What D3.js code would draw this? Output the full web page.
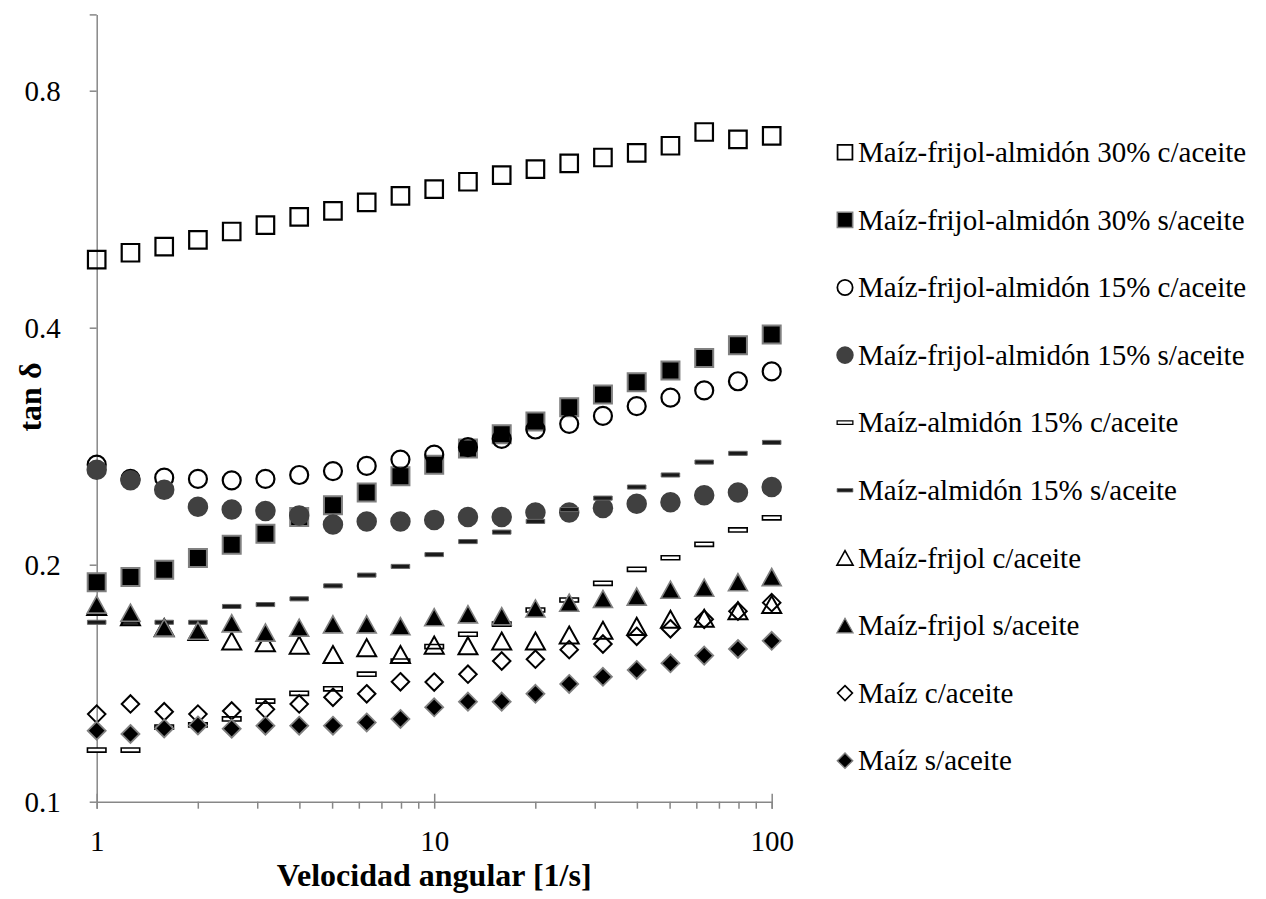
<!DOCTYPE html>
<html>
<head>
<meta charset="utf-8">
<script src="https://cdn.jsdelivr.net/npm/d3@7"></script>
<style>
  body { margin: 0; background: #fff; }
</style>
</head>
<body>
<svg id="chart" width="1266" height="899"></svg>
<script>
// angular velocity, 10 points per decade
const xValues = [1, 1.259, 1.585, 1.995, 2.512, 3.162, 3.981, 5.012, 6.31, 7.943, 10,
                 12.59, 15.85, 19.95, 25.12, 31.62, 39.81, 50.12, 63.1, 79.43, 100];

// tan delta
const mfa30Con = [0.488, 0.498, 0.507, 0.517, 0.530, 0.540, 0.553, 0.563, 0.577, 0.588, 0.600,
                  0.613, 0.625, 0.636, 0.647, 0.658, 0.667, 0.681, 0.709, 0.694, 0.701];
const mfa30Sin = [0.190, 0.193, 0.197, 0.204, 0.212, 0.219, 0.230, 0.238, 0.247, 0.259, 0.268,
                  0.281, 0.293, 0.304, 0.317, 0.329, 0.341, 0.353, 0.366, 0.380, 0.392];
const mfa15Con = [0.268, 0.257, 0.258, 0.257, 0.256, 0.257, 0.260, 0.263, 0.267, 0.272, 0.276,
                  0.282, 0.289, 0.297, 0.302, 0.309, 0.318, 0.326, 0.333, 0.342, 0.352];
const mfa15Sin = [0.264, 0.256, 0.249, 0.237, 0.235, 0.234, 0.231, 0.225, 0.227, 0.227, 0.228,
                  0.230, 0.230, 0.233, 0.233, 0.236, 0.239, 0.240, 0.245, 0.247, 0.251];
const ma15Con  = [0.1163, 0.1163, 0.1244, 0.1252, 0.1274, 0.1342, 0.1373, 0.1391, 0.1452, 0.1509, 0.1574,
                  0.1632, 0.1681, 0.1752, 0.1804, 0.1894, 0.1973, 0.2041, 0.2123, 0.2214, 0.2294];
const ma15Sin  = [0.169, 0.169, 0.169, 0.169, 0.177, 0.178, 0.181, 0.188, 0.194, 0.199, 0.206,
                  0.214, 0.220, 0.227, 0.235, 0.243, 0.251, 0.260, 0.270, 0.277, 0.286];
const mfCon    = [0.177, 0.1718, 0.1664, 0.1645, 0.1600, 0.1592, 0.1581, 0.1538, 0.1569, 0.1538, 0.1581,
                  0.1578, 0.1600, 0.1600, 0.1628, 0.1651, 0.1670, 0.1705, 0.1710, 0.1748, 0.178];
const mfSin    = [0.178, 0.1738, 0.1664, 0.1649, 0.1685, 0.1640, 0.1664, 0.1680, 0.1680, 0.1671, 0.1715,
                  0.1730, 0.1720, 0.1760, 0.1790, 0.1810, 0.1822, 0.1859, 0.1870, 0.1900, 0.1929];
const mCon     = [0.1292, 0.1331, 0.1301, 0.1292, 0.1304, 0.1310, 0.1331, 0.1357, 0.1371, 0.1420, 0.1419,
                  0.1452, 0.1509, 0.1517, 0.1560, 0.1586, 0.1622, 0.1658, 0.1705, 0.1746, 0.1790];
const mSin     = [0.1231, 0.1219, 0.1239, 0.1250, 0.1238, 0.1249, 0.1249, 0.1249, 0.1261, 0.1274, 0.1318,
                  0.1340, 0.1340, 0.1371, 0.1411, 0.1441, 0.1470, 0.1499, 0.1533, 0.1563, 0.1601];

const seriesNames = ["Maíz-frijol-almidón 30% c/aceite", "Maíz-frijol-almidón 30% s/aceite",
                     "Maíz-frijol-almidón 15% c/aceite", "Maíz-frijol-almidón 15% s/aceite",
                     "Maíz-almidón 15% c/aceite", "Maíz-almidón 15% s/aceite",
                     "Maíz-frijol c/aceite", "Maíz-frijol s/aceite",
                     "Maíz c/aceite", "Maíz s/aceite"];
const seriesValues = [mfa30Con, mfa30Sin, mfa15Con, mfa15Sin, ma15Con, ma15Sin, mfCon, mfSin, mCon, mSin];

const yTicks = [0.1, 0.2, 0.4, 0.8, 1];
const xTicks = [1, 10, 100];

// marker shapes, size = side length in px
const square = { draw(c, s) { c.rect(-s / 2, -s / 2, s, s); } };
const circle = { draw(c, s) { c.moveTo(s / 2, 0); c.arc(0, 0, s / 2, 0, 2 * Math.PI); } };
const triangle = { draw(c, s) { const h = s * 0.9 / 2; c.moveTo(0, -h); c.lineTo(s / 2, h); c.lineTo(-s / 2, h); c.closePath(); } };
const diamond = { draw(c, s) { const h = s / 2; c.moveTo(0, -h); c.lineTo(h, 0); c.lineTo(0, h); c.lineTo(-h, 0); c.closePath(); } };
const dash = { draw(c, s) { c.rect(-s / 2, -s * 0.11, s, s * 0.22); } };

const styles = [
  { type: square,   size: 17.5, fill: "none",    stroke: "#000",    sw: 2.2 },
  { type: square,   size: 18,   fill: "#000",    stroke: "#808080", sw: 2 },
  { type: circle,   size: 18,   fill: "none",    stroke: "#000",    sw: 2.2 },
  { type: circle,   size: 20.5, fill: "#404040", stroke: "none",    sw: 0 },
  { type: dash,     size: 18.5, fill: "#fff",    stroke: "#000",    sw: 1.6 },
  { type: dash,     size: 18.5, fill: "#1a1a1a", stroke: "#666",    sw: 1 },
  { type: triangle, size: 19,   fill: "none",    stroke: "#000",    sw: 2 },
  { type: triangle, size: 19,   fill: "#000",    stroke: "#808080", sw: 1.6 },
  { type: diamond,  size: 17.5, fill: "none",    stroke: "#000",    sw: 2 },
  { type: diamond,  size: 18,   fill: "#000",    stroke: "#808080", sw: 1.8 }
];

const svg = d3.select("#chart");
const axisColor = "#878787";
const fontSize = 29;
const serif = "'Liberation Serif', 'Times New Roman', serif";

const x = d3.scaleLog().domain([1, 100]).range([96.7, 771.7]);
const y = d3.scaleLog().domain([0.1, 1]).range([801.7, 14.4]);

// Y axis
const yAxis = svg.append("g")
  .attr("transform", `translate(${x(1)},0)`)
  .call(d3.axisLeft(y).tickValues(yTicks).tickSize(7).tickSizeOuter(0).tickPadding(29)
    .tickFormat(d => d === 1 ? "" : d3.format(".1f")(d)));
yAxis.select(".domain").attr("stroke", axisColor).attr("stroke-width", 1.5);
yAxis.selectAll(".tick line").attr("stroke", axisColor).attr("stroke-width", 1.5);
yAxis.selectAll(".tick text").style("font-size", fontSize + "px").style("font-family", serif)
  .attr("fill", "#000").attr("dy", "0.34em");

// X axis, minor ticks
const minorTicks = [2, 3, 4, 5, 6, 7, 8, 9, 20, 30, 40, 50, 60, 70, 80, 90];
svg.append("g")
  .attr("transform", `translate(0,${y(0.1)})`)
  .selectAll("line").data(minorTicks).join("line")
  .attr("x1", d => x(d)).attr("x2", d => x(d))
  .attr("y1", 0).attr("y2", 7)
  .attr("stroke", axisColor).attr("stroke-width", 1.5);

const xAxis = svg.append("g")
  .attr("transform", `translate(0,${y(0.1)})`)
  .call(d3.axisBottom(x).tickValues(xTicks).tickSizeOuter(0).tickSize(7).tickPadding(22)
    .tickFormat(d3.format("d")));
xAxis.select(".domain").attr("stroke", axisColor).attr("stroke-width", 1.5);
xAxis.selectAll(".tick line").attr("y1", -8).attr("y2", 7).attr("stroke", axisColor).attr("stroke-width", 1.5);
xAxis.selectAll(".tick text").style("font-size", fontSize + "px").style("font-family", serif)
  .attr("fill", "#000");

// markers
seriesValues.forEach((vals, i) => {
  const st = styles[i];
  const sym = d3.symbol().type(st.type).size(st.size);
  svg.append("g").selectAll("path")
    .data(vals.map((v, j) => ({ x: xValues[j], y: v })))
    .join("path")
    .attr("transform", d => `translate(${x(d.x)},${y(d.y)})`)
    .attr("d", sym)
    .attr("fill", st.fill)
    .attr("stroke", st.stroke)
    .attr("stroke-width", st.sw);
});

// legend
const legend = svg.append("g");
seriesNames.forEach((name, i) => {
  const st = styles[i];
  const cy = 152.3 + i * 67.6;
  legend.append("path")
    .attr("transform", `translate(845,${cy})`)
    .attr("d", d3.symbol().type(st.type).size(st.size * 0.85)())
    .attr("fill", st.fill)
    .attr("stroke", st.stroke)
    .attr("stroke-width", st.sw * 0.8);
  legend.append("text")
    .attr("x", 858).attr("y", cy + 9.7)
    .style("font-size", fontSize + "px")
    .style("font-family", serif)
    .attr("fill", "#000")
    .text(name);
});

// axis titles
svg.append("text")
  .attr("x", x(10)).attr("y", 886)
  .attr("text-anchor", "middle")
  .style("font-size", "32px").style("font-weight", "bold").style("font-family", serif)
  .text("Velocidad angular [1/s]");

svg.append("text")
  .attr("transform", "translate(41,397) rotate(-90)")
  .attr("text-anchor", "middle")
  .style("font-size", "32px").style("font-weight", "bold").style("font-family", serif)
  .text("tan δ");
</script>
</body>
</html>
